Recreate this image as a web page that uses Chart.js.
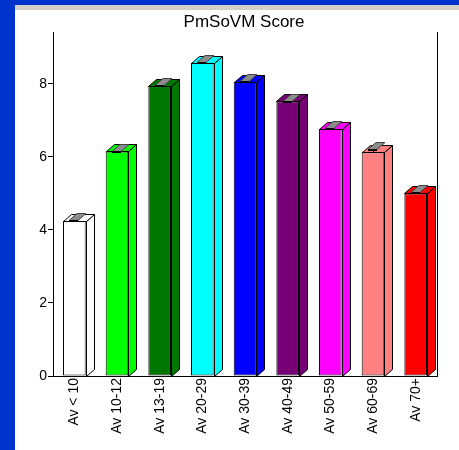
<!DOCTYPE html>
<html>
<head>
<meta charset="utf-8">
<script src="https://cdn.jsdelivr.net/npm/chart.js@4.4.0/dist/chart.umd.min.js"></script>
<style>
  html, body { margin: 0; padding: 0; background: #0033cc; }
  #strip { position: absolute; left: 15px; top: 5px; width: 444px; height: 5px; background: #d4d0c8; }
  #wrap { position: absolute; left: 15px; top: 10px; width: 444px; height: 440px; background: #fff; }
</style>
</head>
<body>
<div id="strip"></div>
<div id="wrap"><canvas id="chart" width="444" height="440"></canvas></div>
<script>
  // data
  const title = 'PmSoVM Score';
  const labels = ['Av < 10', 'Av 10-12', 'Av 13-19', 'Av 20-29', 'Av 30-39', 'Av 40-49', 'Av 50-59', 'Av 60-69', 'Av 70+'];
  const scores = [4.25, 6.15, 7.95, 8.58, 8.06, 7.52, 6.77, 6.13, 5.0];
  const errors = [0.02, 0.02, 0.02, 0.02, 0.02, 0.02, 0.02, 0.08, 0.03];
  const colors = ['#ffffff', '#00ff00', '#007700', '#00ffff', '#0000ff', '#770077', '#ff00ff', '#ff8080', '#ff0000'];
  const yTicks = [0, 2, 4, 6, 8];

  const DX = 8, DY = 7; // depth of the fake 3d

  function poly(ctx, pts, fill) {
    ctx.beginPath();
    ctx.moveTo(pts[0][0], pts[0][1]);
    for (let i = 1; i < pts.length; i++) ctx.lineTo(pts[i][0], pts[i][1]);
    ctx.closePath();
    ctx.fillStyle = fill;
    ctx.fill();
    ctx.stroke();
  }

  const bars3d = {
    id: 'bars3d',
    afterDatasetsDraw(chart) {
      const ctx = chart.ctx;
      const ys = chart.scales.y;
      const meta = chart.getDatasetMeta(0);
      const a = chart.chartArea;
      ctx.save();
      ctx.strokeStyle = '#000';
      ctx.lineWidth = 1;
      meta.data.forEach((bar, i) => {
        const l = Math.round(bar.x - bar.width / 2) + 0.5;
        const r = Math.round(bar.x + bar.width / 2) + 0.5;
        const t = Math.round(bar.y) + 0.5;
        const b = Math.round(bar.base) + 0.5;
        // side
        poly(ctx, [[r, t], [r + DX, t - DY], [r + DX, b - DY], [r, b]], colors[i]);
        // top
        poly(ctx, [[l, t], [l + DX, t - DY], [r + DX, t - DY], [r, t]], colors[i]);
        // error cap
        const cx = Math.round(bar.x);
        const ct = Math.round(ys.getPixelForValue(scores[i] + errors[i])) + 0.5;
        ctx.beginPath();
        ctx.moveTo(cx + 0.5, t);
        ctx.lineTo(cx + 0.5, ct);
        ctx.stroke();
        ctx.strokeStyle = '#444';
        poly(ctx, [[cx - 5, ct], [cx - 5 + DX, ct - DY], [cx + 4 + DX, ct - DY], [cx + 4, ct]], '#8c8c8c');
        ctx.strokeStyle = '#000';
        ctx.lineWidth = 2;
        ctx.beginPath();
        ctx.moveTo(cx - 5, ct + 0.5);
        ctx.lineTo(cx + 4, ct + 0.5);
        ctx.stroke();
        ctx.lineWidth = 1;
      });
      // right frame line
      ctx.beginPath();
      ctx.moveTo(Math.round(a.right) + 0.5, a.top);
      ctx.lineTo(Math.round(a.right) + 0.5, a.bottom);
      ctx.stroke();
      // title centred over the plot
      ctx.fillStyle = '#000';
      ctx.font = '17px "Liberation Sans", Arial, sans-serif';
      ctx.textAlign = 'center';
      ctx.textBaseline = 'middle';
      ctx.fillText(title, (a.left + a.right) / 2 - 1, 12);
      ctx.restore();
    }
  };

  Chart.defaults.font.family = '"Liberation Sans", Arial, sans-serif';
  Chart.defaults.color = '#000';

  new Chart(document.getElementById('chart'), {
    type: 'bar',
    data: {
      labels: labels,
      datasets: [{
        data: scores,
        backgroundColor: colors,
        borderColor: '#000',
        borderWidth: 1,
        borderSkipped: false,
        categoryPercentage: 1,
        barPercentage: 0.53
      }]
    },
    options: {
      responsive: false,
      animation: false,
      layout: { padding: { top: 22, right: 22, left: 0, bottom: 0 } },
      plugins: {
        legend: { display: false },
        tooltip: { enabled: false },
        title: { display: false }
      },
      scales: {
        x: {
          grid: { display: false },
          border: { display: true, color: '#000', width: 1 },
          ticks: { maxRotation: 90, minRotation: 90, padding: -6, font: { size: 14 } },
          afterFit(s) { s.height = 74; }
        },
        y: {
          min: 0,
          max: 9.42,
          grid: { drawOnChartArea: false, tickLength: 5, color: '#000' },
          border: { display: true, color: '#000', width: 1 },
          afterBuildTicks(s) { s.ticks = yTicks.map(v => ({ value: v })); },
          ticks: { padding: 1, font: { size: 14 } },
          afterFit(s) { s.width = 38; }
        }
      }
    },
    plugins: [bars3d]
  });
</script>
</body>
</html>
